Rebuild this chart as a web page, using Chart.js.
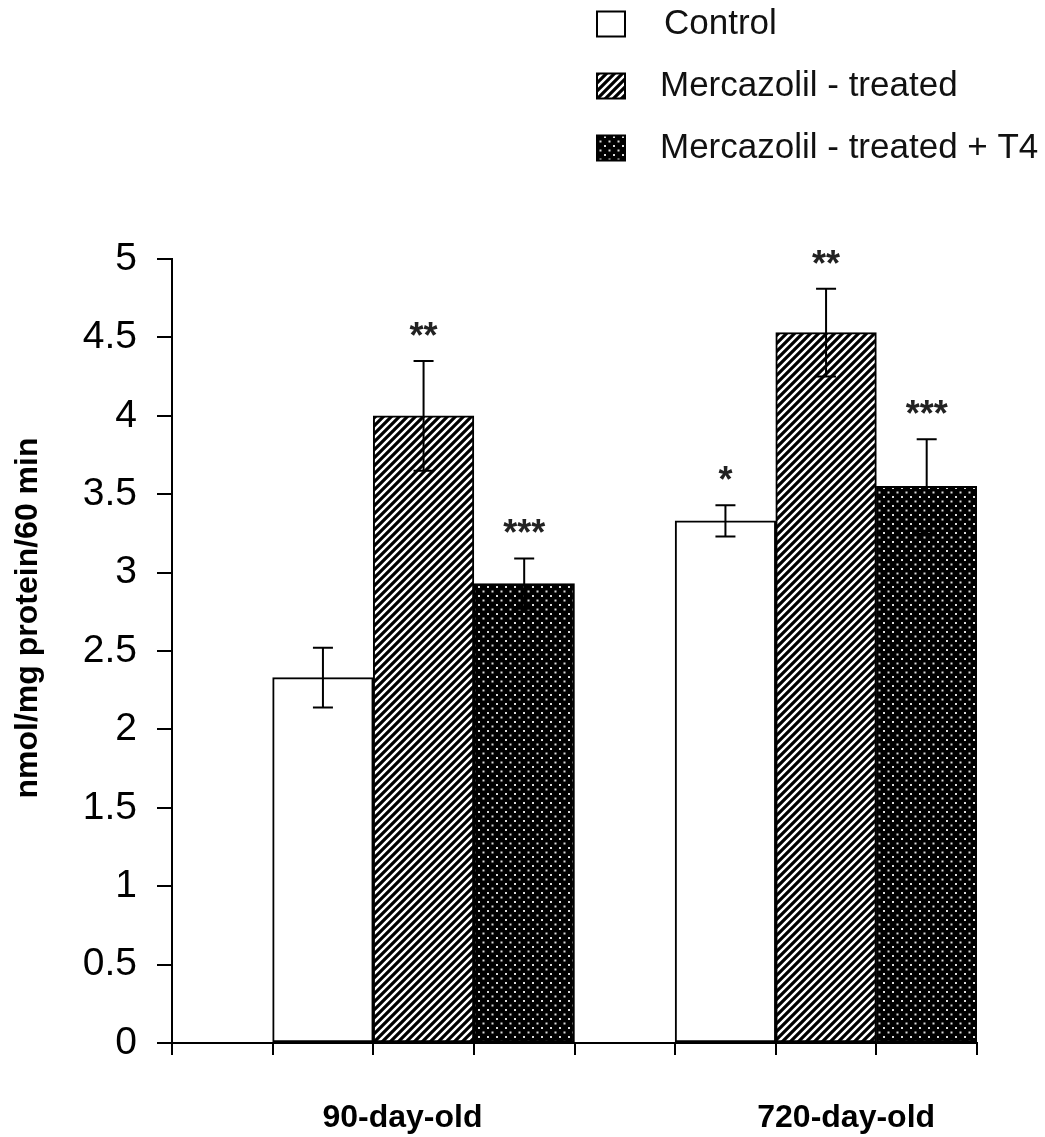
<!DOCTYPE html>
<html>
<head>
<meta charset="utf-8">
<script src="https://cdn.jsdelivr.net/npm/chart.js@4.4.0/dist/chart.umd.min.js"></script>
<style>
  html, body { margin: 0; padding: 0; background: #ffffff; }
  #wrap { width: 1045px; height: 1137px; position: relative; }
</style>
</head>
<body>
<div id="wrap"><canvas id="chart"></canvas></div>
<script>
// ---------------- data ----------------
const categories = ['90-day-old', '720-day-old'];
const seriesNames = ['Control', 'Mercazolil - treated', 'Mercazolil - treated + T4'];
const controlValues = [2.33, 3.33];
const mercazolilValues = [4.00, 4.53];
const mercazolilT4Values = [2.93, 3.55];
const controlErrors = [0.19, 0.10];
const mercazolilErrors = [0.35, 0.28];
const mercazolilT4Errors = [0.16, 0.30];
const controlStars = ['', '*'];
const mercazolilStars = ['**', '**'];
const mercazolilT4Stars = ['***', '***'];
const yTickValues = [0, 0.5, 1, 1.5, 2, 2.5, 3, 3.5, 4, 4.5, 5];
const yAxisTitle = 'nmol/mg protein/60 min';

// ---------------- layout constants ----------------
const slotsPerGroup = seriesNames.length + 1;          // one empty slot + one slot per series
const xMax = categories.length * slotsPerGroup;
const categoryLabelPositions = [2.29, 6.70];            // where group labels sit on the slot axis
const FONT = "'Liberation Sans', Arial, sans-serif";

// ---------------- patterns ----------------
function hatchPattern() {
  const s = 8;
  const c = document.createElement('canvas');
  c.width = s; c.height = s;
  const g = c.getContext('2d');
  g.fillStyle = '#ffffff'; g.fillRect(0, 0, s, s);
  g.strokeStyle = '#000000'; g.lineWidth = 3.2; g.lineCap = 'square';
  g.beginPath();
  g.moveTo(-2, s + 2); g.lineTo(s + 2, -2);
  g.moveTo(-2, 2); g.lineTo(2, -2);
  g.moveTo(s - 2, s + 2); g.lineTo(s + 2, s - 2);
  g.stroke();
  return g.createPattern(c, 'repeat');
}
function dotPattern() {
  const s = 9;
  const c = document.createElement('canvas');
  c.width = s; c.height = s;
  const g = c.getContext('2d');
  g.fillStyle = '#000000'; g.fillRect(0, 0, s, s);
  g.fillStyle = '#dcdcdc';
  g.fillRect(1, 1, 2, 2);
  g.fillRect(5.5, 5.5, 2, 2);
  return g.createPattern(c, 'repeat');
}

const fills = ['#ffffff', hatchPattern(), dotPattern()];
const seriesValues = [controlValues, mercazolilValues, mercazolilT4Values];
const seriesErrors = [controlErrors, mercazolilErrors, mercazolilT4Errors];
const seriesStars = [controlStars, mercazolilStars, mercazolilT4Stars];

const datasets = seriesNames.map((name, si) => ({
  label: name,
  data: categories.map((cat, ci) => ({ x: ci * slotsPerGroup + si + 1.5, y: seriesValues[si][ci] })),
  errors: seriesErrors[si],
  stars: seriesStars[si],
  backgroundColor: fills[si],
  borderColor: '#000000',
  borderWidth: 2,
  borderSkipped: false,
  grouped: false,
  barPercentage: 1,
  categoryPercentage: 1
}));

// ---------------- plugins ----------------
const errorBarPlugin = {
  id: 'errorBars',
  afterDraw(chart) {
    const ctx = chart.ctx;
    const y = chart.scales.y;
    chart.data.datasets.forEach((ds, di) => {
      const meta = chart.getDatasetMeta(di);
      meta.data.forEach((bar, i) => {
        const v = ds.data[i].y, e = ds.errors[i];
        const top = y.getPixelForValue(v + e);
        const bot = y.getPixelForValue(v - e);
        ctx.save();
        ctx.strokeStyle = '#000000';
        ctx.lineWidth = 2;
        ctx.beginPath();
        ctx.moveTo(bar.x, top); ctx.lineTo(bar.x, bot);
        ctx.moveTo(bar.x - 10, top); ctx.lineTo(bar.x + 10, top);
        ctx.moveTo(bar.x - 10, bot); ctx.lineTo(bar.x + 10, bot);
        ctx.stroke();
        if (ds.stars[i]) {
          ctx.fillStyle = '#222222';
          ctx.font = 'bold 36px ' + FONT;
          ctx.textAlign = 'center';
          ctx.textBaseline = 'alphabetic';
          ctx.fillText(ds.stars[i], bar.x, top - 13);
        }
        ctx.restore();
      });
    });
  }
};

const legendPlugin = {
  id: 'customLegend',
  afterDraw(chart) {
    const ctx = chart.ctx;
    const boxX = 597, boxW = 28, boxH = 25, textX = 660;
    const rowY = [24, 86, 148];
    chart.data.datasets.forEach((ds, i) => {
      ctx.save();
      ctx.fillStyle = ds.backgroundColor;
      ctx.fillRect(boxX, rowY[i] - boxH / 2, boxW, boxH);
      ctx.strokeStyle = '#000000';
      ctx.lineWidth = 2;
      ctx.strokeRect(boxX, rowY[i] - boxH / 2, boxW, boxH);
      ctx.fillStyle = '#111111';
      ctx.font = '35px ' + FONT;
      ctx.textAlign = 'left';
      ctx.textBaseline = 'middle';
      ctx.fillText(ds.label, textX + (i === 0 ? 4 : 0), rowY[i]);
      ctx.restore();
    });
  }
};

const yTitlePlugin = {
  id: 'yTitle',
  afterDraw(chart) {
    const ctx = chart.ctx;
    ctx.save();
    ctx.translate(37, 618);
    ctx.rotate(-Math.PI / 2);
    ctx.fillStyle = '#000000';
    ctx.font = 'bold 32px ' + FONT;
    ctx.textAlign = 'center';
    ctx.textBaseline = 'alphabetic';
    ctx.fillText(yAxisTitle, 0, 0);
    ctx.restore();
  }
};

// ---------------- chart ----------------
new Chart(document.getElementById('chart'), {
  type: 'bar',
  data: { datasets },
  options: {
    responsive: true,
    maintainAspectRatio: false,
    animation: false,
    layout: { padding: { top: 259, right: 68, bottom: 0, left: 0 } },
    plugins: {
      legend: { display: false },
      tooltip: { enabled: false }
    },
    scales: {
      x: {
        type: 'linear',
        position: 'bottom',
        offset: false,
        min: 0,
        max: xMax,
        weight: 0,
        ticks: { display: false, stepSize: 1 },
        grid: { display: true, offset: false, drawOnChartArea: false, drawTicks: true, tickLength: 12, color: '#000000', lineWidth: 2 },
        border: { display: true, color: '#000000', width: 2 },
        afterFit(axis) { axis.height = 12; }
      },
      xLabels: {
        type: 'linear',
        position: 'bottom',
        offset: false,
        min: 0,
        max: xMax,
        weight: 1,
        afterBuildTicks(axis) { axis.ticks = categoryLabelPositions.map(v => ({ value: v })); },
        ticks: {
          autoSkip: false,
          padding: 36,
          color: '#000000',
          font: { family: FONT, size: 32, weight: 'bold' },
          callback(value, index) { return categories[index]; }
        },
        grid: { display: false },
        border: { display: false },
        afterFit(axis) { axis.height = 82; }
      },
      y: {
        type: 'linear',
        min: 0,
        max: 5,
        afterBuildTicks(axis) { axis.ticks = yTickValues.map(v => ({ value: v })); },
        ticks: {
          autoSkip: false,
          padding: 20,
          color: '#000000',
          font: { family: FONT, size: 39 },
          callback(value) { return String(value); }
        },
        grid: { display: true, drawOnChartArea: false, drawTicks: true, tickLength: 15, color: '#000000', lineWidth: 2 },
        border: { display: true, color: '#000000', width: 2 },
        afterFit(axis) { axis.width = 172; }
      }
    }
  },
  plugins: [errorBarPlugin, legendPlugin, yTitlePlugin]
});
</script>
</body>
</html>
